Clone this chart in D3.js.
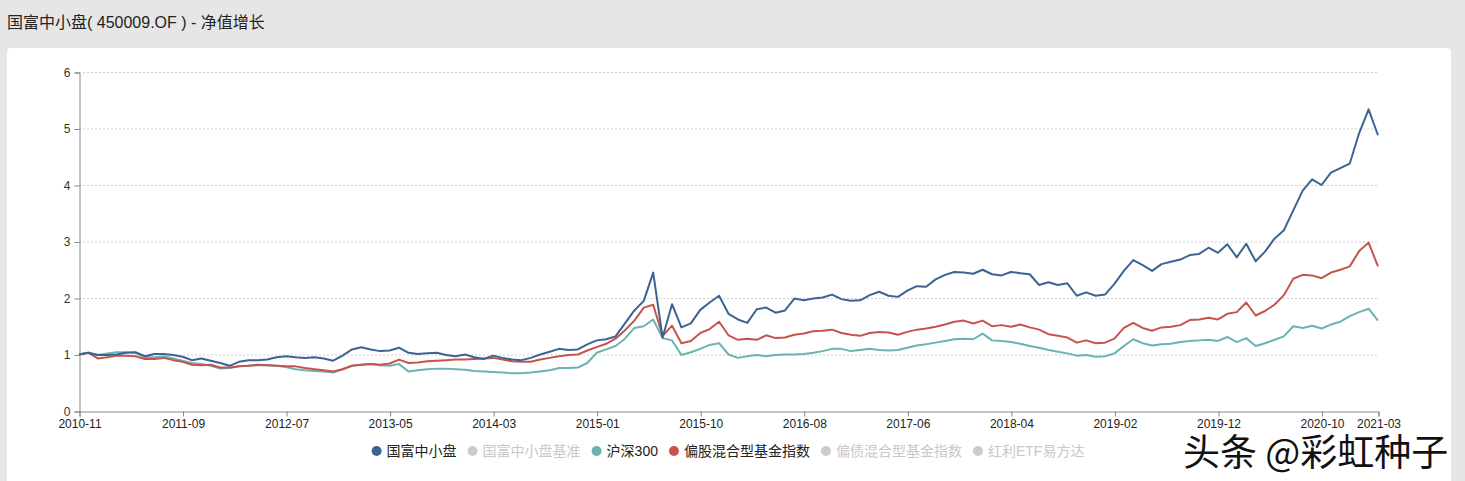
<!DOCTYPE html>
<html>
<head>
<meta charset="utf-8">
<script src="https://cdn.jsdelivr.net/npm/d3@7/dist/d3.min.js"></script>
<style>
  html, body { margin: 0; padding: 0; background: #e6e6e6; overflow: hidden; }
  svg { display: block; }
</style>
</head>
<body>
<svg id="chart" width="1465" height="481"></svg>
<script>
const title = "国富中小盘( 450009.OF ) - 净值增长";
const xTickLabels = ["2010-11","2011-09","2012-07","2013-05","2014-03","2015-01","2015-10","2016-08","2017-06","2018-04","2019-02","2019-12","2020-10","2021-03"];
const labelEvery = 11;
const yTicks = [0,1,2,3,4,5,6];

const fundValues = [
1.00,1.03,0.99,0.99,1.00,1.03,1.04,0.97,1.01,1.01,0.99,0.96,0.90,0.93,0.89,0.85,0.80,0.87,0.90,0.90,
0.91,0.95,0.97,0.95,0.94,0.95,0.93,0.89,0.98,1.09,1.13,1.09,1.06,1.07,1.12,1.03,1.01,1.02,1.03,0.99,
0.97,1.00,0.95,0.92,0.98,0.94,0.91,0.90,0.94,1.00,1.05,1.10,1.08,1.09,1.18,1.25,1.27,1.32,1.55,1.78,
1.95,2.45,1.30,1.89,1.48,1.55,1.79,1.92,2.04,1.72,1.62,1.56,1.80,1.83,1.74,1.78,1.99,1.96,1.99,2.01,
2.06,1.98,1.95,1.96,2.05,2.11,2.04,2.02,2.13,2.21,2.20,2.33,2.41,2.46,2.45,2.43,2.50,2.42,2.40,2.46,
2.44,2.42,2.23,2.28,2.23,2.26,2.04,2.10,2.04,2.06,2.25,2.48,2.67,2.58,2.48,2.60,2.64,2.68,2.76,2.78,
2.89,2.80,2.95,2.72,2.96,2.65,2.82,3.05,3.20,3.55,3.90,4.10,4.00,4.22,4.30,4.38,4.92,5.34,4.88];

const hs300Values = [
1.00,1.03,0.99,1.02,1.04,1.04,1.03,0.95,0.95,0.97,0.93,0.89,0.85,0.83,0.80,0.75,0.76,0.79,0.80,0.81,
0.81,0.80,0.78,0.74,0.72,0.71,0.70,0.68,0.74,0.80,0.82,0.83,0.81,0.80,0.83,0.70,0.72,0.74,0.75,0.75,
0.74,0.73,0.71,0.70,0.69,0.68,0.67,0.67,0.68,0.70,0.72,0.76,0.76,0.77,0.85,1.03,1.09,1.15,1.28,1.47,
1.50,1.62,1.29,1.25,0.99,1.04,1.10,1.17,1.20,1.00,0.94,0.97,0.99,0.97,0.99,1.00,1.00,1.01,1.03,1.06,
1.10,1.10,1.06,1.08,1.10,1.08,1.07,1.08,1.12,1.16,1.18,1.21,1.24,1.27,1.28,1.27,1.37,1.25,1.24,1.22,
1.19,1.15,1.12,1.08,1.05,1.02,0.98,0.99,0.96,0.97,1.02,1.15,1.27,1.20,1.16,1.18,1.19,1.22,1.24,1.25,
1.26,1.24,1.31,1.22,1.29,1.15,1.20,1.26,1.32,1.50,1.47,1.51,1.46,1.53,1.58,1.68,1.75,1.81,1.60];

const equityMixValues = [
1.00,1.03,0.93,0.95,0.98,0.98,0.97,0.92,0.92,0.94,0.90,0.87,0.82,0.81,0.82,0.77,0.77,0.79,0.80,0.82,
0.81,0.80,0.79,0.79,0.76,0.74,0.72,0.70,0.74,0.80,0.82,0.83,0.82,0.84,0.91,0.85,0.86,0.88,0.89,0.90,
0.91,0.91,0.92,0.93,0.94,0.91,0.88,0.87,0.87,0.91,0.94,0.97,0.99,1.00,1.07,1.13,1.19,1.28,1.43,1.60,
1.83,1.88,1.33,1.51,1.20,1.24,1.38,1.45,1.58,1.34,1.26,1.28,1.26,1.34,1.29,1.30,1.35,1.37,1.41,1.42,
1.44,1.38,1.35,1.33,1.38,1.40,1.39,1.35,1.40,1.44,1.46,1.49,1.53,1.58,1.60,1.55,1.60,1.50,1.52,1.49,
1.53,1.48,1.44,1.36,1.33,1.30,1.21,1.25,1.20,1.21,1.28,1.47,1.56,1.47,1.42,1.48,1.49,1.52,1.61,1.62,
1.65,1.62,1.72,1.75,1.92,1.69,1.77,1.88,2.05,2.34,2.41,2.40,2.35,2.45,2.50,2.56,2.83,2.98,2.56];

const legendItems = [
  {name: "国富中小盘", color: "#3b6493", active: true},
  {name: "国富中小盘基准", color: "#cccccc", active: false},
  {name: "沪深300", color: "#6ab3b1", active: true},
  {name: "偏股混合型基金指数", color: "#c8534c", active: true},
  {name: "偏债混合型基金指数", color: "#cccccc", active: false},
  {name: "红利ETF易方达", color: "#cccccc", active: false}
];
const seriesList = [
  {name: "沪深300", values: hs300Values, color: "#6ab3b1"},
  {name: "偏股混合型基金指数", values: equityMixValues, color: "#c8534c"},
  {name: "国富中小盘", values: fundValues, color: "#3b6493"}
];

const FONT = "'Helvetica Neue', Helvetica, Arial, 'Liberation Sans', 'Noto Sans CJK SC', sans-serif";
const svg = d3.select("#chart");

// title
svg.append("text").attr("x", 7).attr("y", 28)
  .attr("font-family", FONT).attr("font-size", 16).attr("fill", "#222")
  .text(title);

// card
svg.append("rect").attr("x", 7).attr("y", 48).attr("width", 1444).attr("height", 450)
  .attr("rx", 4).attr("fill", "#ffffff");

const N = fundValues.length;
const x = d3.scaleLinear().domain([0, N - 1]).range([79, 1378]);
const y = d3.scaleLinear().domain([0, 6]).range([411, 72]);

// grid
svg.append("g").selectAll("line").data(yTicks.filter(d => d > 0)).join("line")
  .attr("x1", 79).attr("x2", 1378)
  .attr("y1", d => y(d) + 0.5).attr("y2", d => y(d) + 0.5)
  .attr("stroke", "#cfcfcf").attr("stroke-width", 1).attr("stroke-dasharray", "2,2");

// y axis
const yAxis = d3.axisLeft(y).tickValues(yTicks).tickSize(5).tickPadding(4).tickFormat(d3.format("d"));
const gy = svg.append("g").attr("transform", "translate(79.5,0.5)").call(yAxis);
gy.select(".domain").attr("stroke", "#888");
gy.selectAll(".tick line").attr("stroke", "#888");
gy.selectAll(".tick text").attr("font-family", FONT).attr("font-size", 12).attr("fill", "#333");

// x axis
const tickIdx = xTickLabels.map((d, i) => Math.min(i * labelEvery, N - 1));
const xAxis = d3.axisBottom(x).tickValues(tickIdx).tickSize(5).tickPadding(3)
  .tickFormat((d, i) => xTickLabels[i]);
const gx = svg.append("g").attr("transform", "translate(0.5,411.5)").call(xAxis);
gx.select(".domain").attr("stroke", "#888");
gx.selectAll(".tick line").attr("stroke", "#888");
gx.selectAll(".tick text").attr("font-family", FONT).attr("font-size", 12).attr("fill", "#222");

// lines
const line = d3.line().x((d, i) => x(i)).y(d => y(d)).curve(d3.curveLinear);
svg.append("g").selectAll("path").data(seriesList).join("path")
  .attr("d", d => line(d.values))
  .attr("fill", "none").attr("stroke", d => d.color)
  .attr("stroke-width", 2).attr("stroke-linejoin", "round");

// legend
const lg = svg.append("g").attr("font-family", FONT).attr("font-size", 14);
let widths = [];
const tmp = lg.append("g");
legendItems.forEach(it => {
  const t = tmp.append("text").text(it.name);
  widths.push(t.node().getComputedTextLength());
});
tmp.remove();
const textOff = 10, gapAfter = 16;
const total = 5 + d3.sum(widths) + legendItems.length * textOff + (legendItems.length - 1) * gapAfter;
let cx = 728 - total / 2 + 5;
legendItems.forEach((it, i) => {
  lg.append("circle").attr("cx", cx).attr("cy", 451).attr("r", 5).attr("fill", it.color);
  lg.append("text").attr("x", cx + textOff).attr("y", 451).attr("dy", "0.36em")
    .attr("fill", it.active ? "#222" : "#c8c8c8").text(it.name);
  cx += textOff + widths[i] + gapAfter;
});

// watermark
const wm = svg.append("g").attr("font-family", "'Noto Sans CJK SC', sans-serif").attr("font-size", 37);
wm.append("text").attr("x", 1185).attr("y", 468).attr("fill", "#ffffff").text("头条 @彩虹种子");
wm.append("text").attr("x", 1183).attr("y", 466).attr("fill", "#111").text("头条 @彩虹种子");
</script>
</body>
</html>
